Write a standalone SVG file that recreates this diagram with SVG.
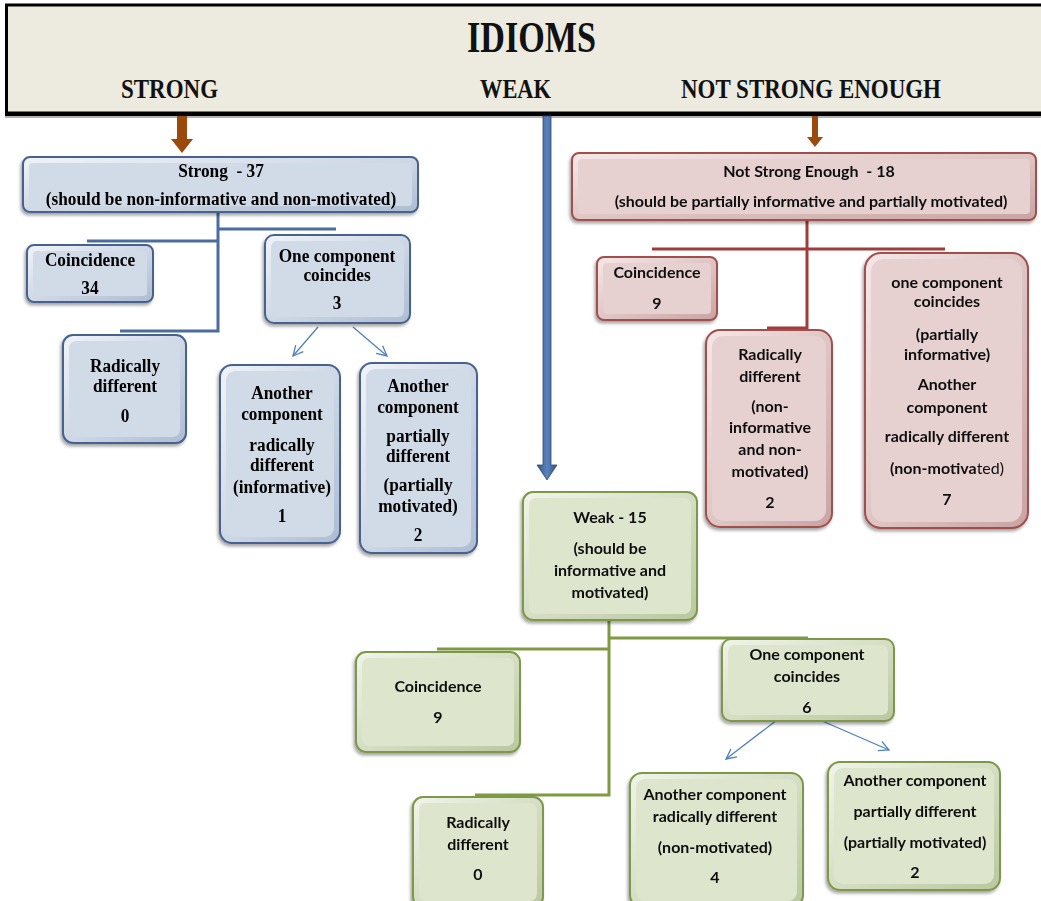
<svg xmlns="http://www.w3.org/2000/svg" width="1041" height="901" viewBox="0 0 1041 901">
  <defs>
    <style>
      .ser{font-family:"Liberation Serif","Times New Roman",serif;font-weight:bold;font-size:19px;text-anchor:middle;fill:#000;white-space:pre}
      .san{font-family:Lato,"Liberation Sans",sans-serif;font-weight:bold;font-size:16px;text-anchor:middle;fill:#111;white-space:pre}
      .hd{font-family:"Liberation Serif","Times New Roman",serif;font-weight:bold;fill:#111}
      .nb .o{fill:url(#gB);stroke:#46628e;stroke-width:2}
      .nb .i{fill:#d1dae7}
      .nr .o{fill:url(#gR);stroke:#a14f4d;stroke-width:2}
      .nr .i{fill:#e6d0d0}
      .ng .o{fill:url(#gG);stroke:#7e9848;stroke-width:2}
      .ng .i{fill:#dde5cd}
      .node{filter:url(#sh)}
      .cb{fill:none;stroke:#4a6c9f;stroke-width:3}
      .cr{fill:none;stroke:#a23c3c;stroke-width:3}
      .cg{fill:none;stroke:#7f9a40;stroke-width:3}
      .thin{fill:none;stroke:#4f81bd;stroke-width:1.3;marker-end:url(#open)}
    </style>
    <linearGradient id="gB" x1="0" y1="0" x2="1" y2="1">
      <stop offset="0" stop-color="#f1f4f9"/>
      <stop offset="1" stop-color="#aebcd2"/>
    </linearGradient>
    <linearGradient id="gR" x1="0" y1="0" x2="1" y2="1">
      <stop offset="0" stop-color="#f6e8e8"/>
      <stop offset="1" stop-color="#c8a4a3"/>
    </linearGradient>
    <linearGradient id="gG" x1="0" y1="0" x2="1" y2="1">
      <stop offset="0" stop-color="#f1f4ea"/>
      <stop offset="1" stop-color="#bac7a0"/>
    </linearGradient>
    <linearGradient id="shaft" x1="0" y1="0" x2="1" y2="0">
      <stop offset="0" stop-color="#34547f"/>
      <stop offset="0.5" stop-color="#5b83bb"/>
      <stop offset="1" stop-color="#34547f"/>
    </linearGradient>
    <filter id="sh" x="-10%" y="-10%" width="120%" height="130%">
      <feDropShadow dx="-1.5" dy="2.5" stdDeviation="1.5" flood-color="#000" flood-opacity="0.35"/>
    </filter>
    <marker id="open" viewBox="0 0 12 12" refX="11" refY="6" markerWidth="12" markerHeight="12" markerUnits="userSpaceOnUse" orient="auto">
      <path d="M1,1 L11,6 L1,11" fill="none" stroke="#4f81bd" stroke-width="1.3"/>
    </marker>
  </defs>

  <!-- title band -->
  <g id="header">
    <rect x="6.5" y="5" width="1040" height="108" fill="#edeae0" stroke="#000" stroke-width="3"/>
    <line x1="5" y1="114" x2="1041" y2="114" stroke="#000" stroke-width="4"/>
    <line x1="5" y1="117" x2="1041" y2="117" stroke="#999" stroke-width="1.5"/>
    <text class="hd" x="467" y="52" font-size="45" textLength="129" lengthAdjust="spacingAndGlyphs">IDIOMS</text>
    <text class="hd" x="121" y="98" font-size="27" textLength="97" lengthAdjust="spacingAndGlyphs">STRONG</text>
    <text class="hd" x="480" y="98" font-size="27" textLength="71" lengthAdjust="spacingAndGlyphs">WEAK</text>
    <text class="hd" x="681" y="98" font-size="27" textLength="260" lengthAdjust="spacingAndGlyphs">NOT STRONG ENOUGH</text>
  </g>

  <!-- connectors -->
  <g id="connectors">
    <!-- header to category boxes -->
    <path d="M177,116 H187 V139 H193 L182,153 L171,139 H177 Z" fill="#9a4a0c"/>
    <path d="M812,116 H818 V137 H823 L815,147 L807,137 H812 Z" fill="#9a4a0c"/>
    <path d="M543,116 H551 V465 H557 L547,480 L537,465 H543 Z" fill="url(#shaft)" stroke="#2f4d77" stroke-width="0.8"/>
    <!-- strong branch -->
    <path class="cb" d="M218,212 V331 H120"/>
    <path class="cb" d="M218,229 H336"/>
    <path class="cb" d="M218,241 H87"/>
    <path class="thin" d="M318,327 L293,356"/>
    <path class="thin" d="M353,327 L387,356"/>
    <!-- not strong enough branch -->
    <path class="cr" d="M807,220 V328 H767"/>
    <path class="cr" d="M652,249 H945"/>
    <!-- weak branch -->
    <path class="cg" d="M609,620 V795 H475"/>
    <path class="cg" d="M437,649 H609"/>
    <path class="cg" d="M609,638 H808"/>
    <path class="thin" d="M777,720 L726,759"/>
    <path class="thin" d="M820,720 L889,750"/>
  </g>

  <!-- STRONG (serif labels are set slightly condensed) -->
  <g id="strong" class="node nb">
    <rect class="o" x="23" y="157" width="395" height="55" rx="7"/>
    <rect class="i" x="29" y="163" width="383" height="43" rx="4"/>
    <text class="ser" transform="translate(221 177) scale(0.91 1)">Strong  - 37</text>
    <text class="ser" transform="translate(221 205) scale(0.91 1)">(should be non-informative and non-motivated)</text>
  </g>
  <g id="strong-coincidence" class="node nb">
    <rect class="o" x="27" y="245" width="126" height="57" rx="7"/>
    <rect class="i" x="33" y="251" width="114" height="45" rx="4"/>
    <text class="ser" transform="translate(90 266) scale(0.91 1)">Coincidence</text>
    <text class="ser" transform="translate(90 294) scale(0.91 1)">34</text>
  </g>
  <g id="strong-one-component" class="node nb">
    <rect class="o" x="265" y="235" width="145" height="88" rx="9"/>
    <rect class="i" x="271" y="241" width="133" height="76" rx="6"/>
    <text class="ser" transform="translate(337 262) scale(0.91 1)">One component</text>
    <text class="ser" transform="translate(337 281) scale(0.91 1)">coincides</text>
    <text class="ser" transform="translate(337 309) scale(0.91 1)">3</text>
  </g>
  <g id="strong-radically" class="node nb">
    <rect class="o" x="63" y="335" width="123" height="108" rx="10"/>
    <rect class="i" x="69" y="341" width="111" height="96" rx="7"/>
    <text class="ser" transform="translate(125 372) scale(0.91 1)">Radically</text>
    <text class="ser" transform="translate(125 392) scale(0.91 1)">different</text>
    <text class="ser" transform="translate(125 422) scale(0.91 1)">0</text>
  </g>
  <g id="strong-another-radical" class="node nb">
    <rect class="o" x="220" y="365" width="120" height="178" rx="12"/>
    <rect class="i" x="226" y="371" width="108" height="166" rx="9"/>
    <text class="ser" transform="translate(282 399) scale(0.91 1)">Another</text>
    <text class="ser" transform="translate(282 420) scale(0.91 1)">component</text>
    <text class="ser" transform="translate(282 451) scale(0.91 1)">radically</text>
    <text class="ser" transform="translate(282 471) scale(0.91 1)">different</text>
    <text class="ser" transform="translate(282 493) scale(0.91 1)">(informative)</text>
    <text class="ser" transform="translate(282 522) scale(0.91 1)">1</text>
  </g>
  <g id="strong-another-partial" class="node nb">
    <rect class="o" x="360" y="363" width="117" height="190" rx="12"/>
    <rect class="i" x="366" y="369" width="105" height="178" rx="9"/>
    <text class="ser" transform="translate(418 392) scale(0.91 1)">Another</text>
    <text class="ser" transform="translate(418 413) scale(0.91 1)">component</text>
    <text class="ser" transform="translate(418 442) scale(0.91 1)">partially</text>
    <text class="ser" transform="translate(418 462) scale(0.91 1)">different</text>
    <text class="ser" transform="translate(418 491) scale(0.91 1)">(partially</text>
    <text class="ser" transform="translate(418 512) scale(0.91 1)">motivated)</text>
    <text class="ser" transform="translate(418 541) scale(0.91 1)">2</text>
  </g>

  <!-- NOT STRONG ENOUGH -->
  <g id="nse" class="node nr">
    <rect class="o" x="572" y="153" width="464" height="67" rx="7"/>
    <rect class="i" x="578" y="159" width="452" height="55" rx="4"/>
    <text class="san" x="809" y="177">Not Strong Enough  - 18</text>
    <text class="san" x="811" y="207">(should be partially informative and partially motivated)</text>
  </g>
  <g id="nse-coincidence" class="node nr">
    <rect class="o" x="597" y="257" width="120" height="63" rx="7"/>
    <rect class="i" x="603" y="263" width="108" height="51" rx="4"/>
    <text class="san" x="657" y="278">Coincidence</text>
    <text class="san" x="657" y="309">9</text>
  </g>
  <g id="nse-radically" class="node nr">
    <rect class="o" x="706" y="330" width="126" height="197" rx="14"/>
    <rect class="i" x="712" y="336" width="114" height="185" rx="11"/>
    <text class="san" x="770" y="360">Radically</text>
    <text class="san" x="770" y="382">different</text>
    <text class="san" x="770" y="412">(non-</text>
    <text class="san" x="770" y="433">informative</text>
    <text class="san" x="770" y="455">and non-</text>
    <text class="san" x="770" y="477">motivated)</text>
    <text class="san" x="770" y="508">2</text>
  </g>
  <g id="nse-one-component" class="node nr">
    <rect class="o" x="865" y="253" width="163" height="275" rx="16"/>
    <rect class="i" x="871" y="259" width="151" height="263" rx="13"/>
    <text class="san" x="947" y="288">one component</text>
    <text class="san" x="947" y="307">coincides</text>
    <text class="san" x="947" y="340">(partially</text>
    <text class="san" x="947" y="360">informative)</text>
    <text class="san" x="947" y="390">Another</text>
    <text class="san" x="947" y="413">component</text>
    <text class="san" x="947" y="442">radically different</text>
    <text class="san" x="947" y="474">(non-motiva<tspan font-weight="normal">ted)</tspan></text>
    <text class="san" x="947" y="505" font-weight="normal">7</text>
  </g>

  <!-- WEAK -->
  <g id="weak" class="node ng">
    <rect class="o" x="523" y="492" width="174" height="128" rx="10"/>
    <rect class="i" x="529" y="498" width="162" height="116" rx="7"/>
    <text class="san" x="610" y="523">Weak - 15</text>
    <text class="san" x="610" y="554">(should be</text>
    <text class="san" x="610" y="576">informative and</text>
    <text class="san" x="610" y="598">motivated)</text>
  </g>
  <g id="weak-coincidence" class="node ng">
    <rect class="o" x="356" y="652" width="164" height="100" rx="10"/>
    <rect class="i" x="362" y="658" width="152" height="88" rx="7"/>
    <text class="san" x="438" y="692">Coincidence</text>
    <text class="san" x="438" y="723">9</text>
  </g>
  <g id="weak-radically" class="node ng">
    <rect class="o" x="413" y="797" width="130" height="110" rx="10"/>
    <rect class="i" x="419" y="803" width="118" height="98" rx="7"/>
    <text class="san" x="478" y="828">Radically</text>
    <text class="san" x="478" y="850">different</text>
    <text class="san" x="478" y="880">0</text>
  </g>
  <g id="weak-one-component" class="node ng">
    <rect class="o" x="722" y="639" width="172" height="82" rx="9"/>
    <rect class="i" x="728" y="645" width="160" height="70" rx="6"/>
    <text class="san" x="807" y="660">One component</text>
    <text class="san" x="807" y="682">coincides</text>
    <text class="san" x="807" y="713">6</text>
  </g>
  <g id="weak-another-radical" class="node ng">
    <rect class="o" x="630" y="773" width="173" height="134" rx="12"/>
    <rect class="i" x="636" y="779" width="161" height="122" rx="9"/>
    <text class="san" x="715" y="800">Another component</text>
    <text class="san" x="715" y="822">radically different</text>
    <text class="san" x="715" y="853">(non-motivated)</text>
    <text class="san" x="715" y="883">4</text>
  </g>
  <g id="weak-another-partial" class="node ng">
    <rect class="o" x="828" y="762" width="172" height="128" rx="12"/>
    <rect class="i" x="834" y="768" width="160" height="116" rx="9"/>
    <text class="san" x="915" y="786">Another component</text>
    <text class="san" x="915" y="817">partially different</text>
    <text class="san" x="915" y="848">(partially motivated)</text>
    <text class="san" x="915" y="878">2</text>
  </g>
</svg>
